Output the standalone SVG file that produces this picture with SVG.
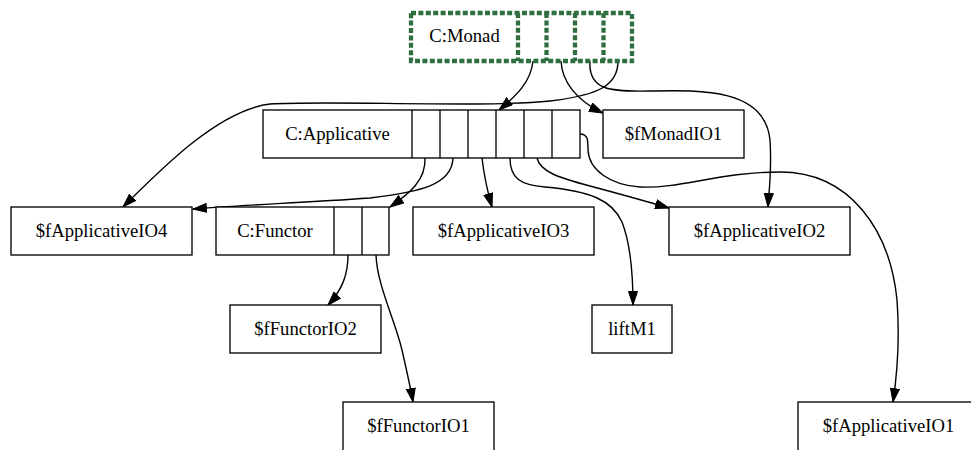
<svg xmlns="http://www.w3.org/2000/svg" width="971" height="450" viewBox="0 0 971 450">
  <style>
    .box { fill: #ffffff; stroke: #000000; stroke-width: 1.33; }
    .div { stroke: #000000; stroke-width: 1.33; }
    .dash { fill: #ffffff; stroke: #2f6e3f; stroke-width: 4.3; stroke-dasharray: 5 2.4; }
    .dashdiv { stroke: #2f6e3f; stroke-width: 4.3; stroke-dasharray: 5 2.4; }
    .lbl { font-family: "Liberation Serif", "Times New Roman", serif; font-size: 18.67px; fill: #000000; text-anchor: middle; }
    .edge { fill: none; stroke: #000000; stroke-width: 1.4; marker-end: url(#arrow); }
  </style>
  <defs>
    <marker id="arrow" markerUnits="userSpaceOnUse" markerWidth="16" markerHeight="12" refX="14" refY="5" orient="auto">
      <path d="M0.5,0.5 L14,5 L0.5,9.5 z" fill="#000000" stroke="#000000" stroke-width="1"/>
    </marker>
  </defs>
  <rect width="971" height="450" fill="#ffffff"/>

  <!-- connectors -->
  <g id="edges">
    <path class="edge" d="M533,61 C531,82 516,96 499,110"/>
    <path class="edge" d="M561,61 C562,82 577,101 603,113"/>
    <path class="edge" d="M590,61 C588,90 610,92 650,91 C700,90 765,88 770,140 C772,170 769,190 768,207"/>
    <path class="edge" d="M618,61 C618,85 600,95 550,101 C480,108 330,100 270,104 C220,110 165,165 123,207"/>
    <path class="edge" d="M425,158 C426,180 410,193 390,207"/>
    <path class="edge" d="M453,158 C452,185 420,192 370,198 C300,203 240,205 193,209"/>
    <path class="edge" d="M482,158 C484,175 487,190 492,207"/>
    <path class="edge" d="M510,158 C510,178 520,185 545,187 C590,191 612,200 622,222 C631,245 633,280 633,305"/>
    <path class="edge" d="M537,158 C540,172 560,178 590,186 C620,194 645,201 669,208"/>
    <path class="edge" d="M580,134 C588,134 588,140 588,150 C589,170 610,185 640,187 C680,189 720,172 780,172 C850,172 890,230 897,300 C900,340 897,375 893,402"/>
    <path class="edge" d="M348,255 C348,275 342,290 328,305"/>
    <path class="edge" d="M376,255 C377,285 395,320 402,350 C407,372 411,390 413,402"/>
  </g>

  <!-- C:Monad record with four ports -->
  <g id="monad">
    <rect class="dash" x="411" y="13" width="221" height="48"/>
    <line class="dashdiv" x1="518" y1="13" x2="518" y2="61"/>
    <line class="dashdiv" x1="546.5" y1="13" x2="546.5" y2="61"/>
    <line class="dashdiv" x1="575" y1="13" x2="575" y2="61"/>
    <line class="dashdiv" x1="603.5" y1="13" x2="603.5" y2="61"/>
    <text class="lbl" x="464.5" y="42">C:Monad</text>
  </g>

  <!-- C:Applicative record with six ports -->
  <g id="applicative">
    <rect class="box" x="263" y="110" width="317" height="48"/>
    <line class="div" x1="412" y1="110" x2="412" y2="158"/>
    <line class="div" x1="440" y1="110" x2="440" y2="158"/>
    <line class="div" x1="468" y1="110" x2="468" y2="158"/>
    <line class="div" x1="496" y1="110" x2="496" y2="158"/>
    <line class="div" x1="524" y1="110" x2="524" y2="158"/>
    <line class="div" x1="552" y1="110" x2="552" y2="158"/>
    <text class="lbl" x="337.5" y="139.5">C:Applicative</text>
  </g>

  <g id="fMonadIO1">
    <rect class="box" x="603" y="110" width="141" height="48"/>
    <text class="lbl" x="673.5" y="139.5">$fMonadIO1</text>
  </g>

  <g id="fApplicativeIO4">
    <rect class="box" x="11" y="207" width="181" height="48"/>
    <text class="lbl" x="101.5" y="237">$fApplicativeIO4</text>
  </g>

  <!-- C:Functor record with two ports -->
  <g id="functor">
    <rect class="box" x="216" y="207" width="173" height="48"/>
    <line class="div" x1="334" y1="207" x2="334" y2="255"/>
    <line class="div" x1="362" y1="207" x2="362" y2="255"/>
    <text class="lbl" x="275" y="237">C:Functor</text>
  </g>

  <g id="fApplicativeIO3">
    <rect class="box" x="413" y="207" width="181" height="48"/>
    <text class="lbl" x="503.5" y="237">$fApplicativeIO3</text>
  </g>

  <g id="fApplicativeIO2">
    <rect class="box" x="669" y="207" width="181" height="48"/>
    <text class="lbl" x="759.5" y="237">$fApplicativeIO2</text>
  </g>

  <g id="fFunctorIO2">
    <rect class="box" x="230" y="305" width="151" height="48"/>
    <text class="lbl" x="305.5" y="335">$fFunctorIO2</text>
  </g>

  <g id="liftM1">
    <rect class="box" x="592" y="305" width="80" height="48"/>
    <text class="lbl" x="632" y="335">liftM1</text>
  </g>

  <g id="fFunctorIO1">
    <rect class="box" x="343" y="402" width="151" height="49"/>
    <text class="lbl" x="418.5" y="432">$fFunctorIO1</text>
  </g>

  <g id="fApplicativeIO1">
    <rect class="box" x="798" y="402" width="181" height="49"/>
    <text class="lbl" x="888.5" y="432">$fApplicativeIO1</text>
  </g>
</svg>
